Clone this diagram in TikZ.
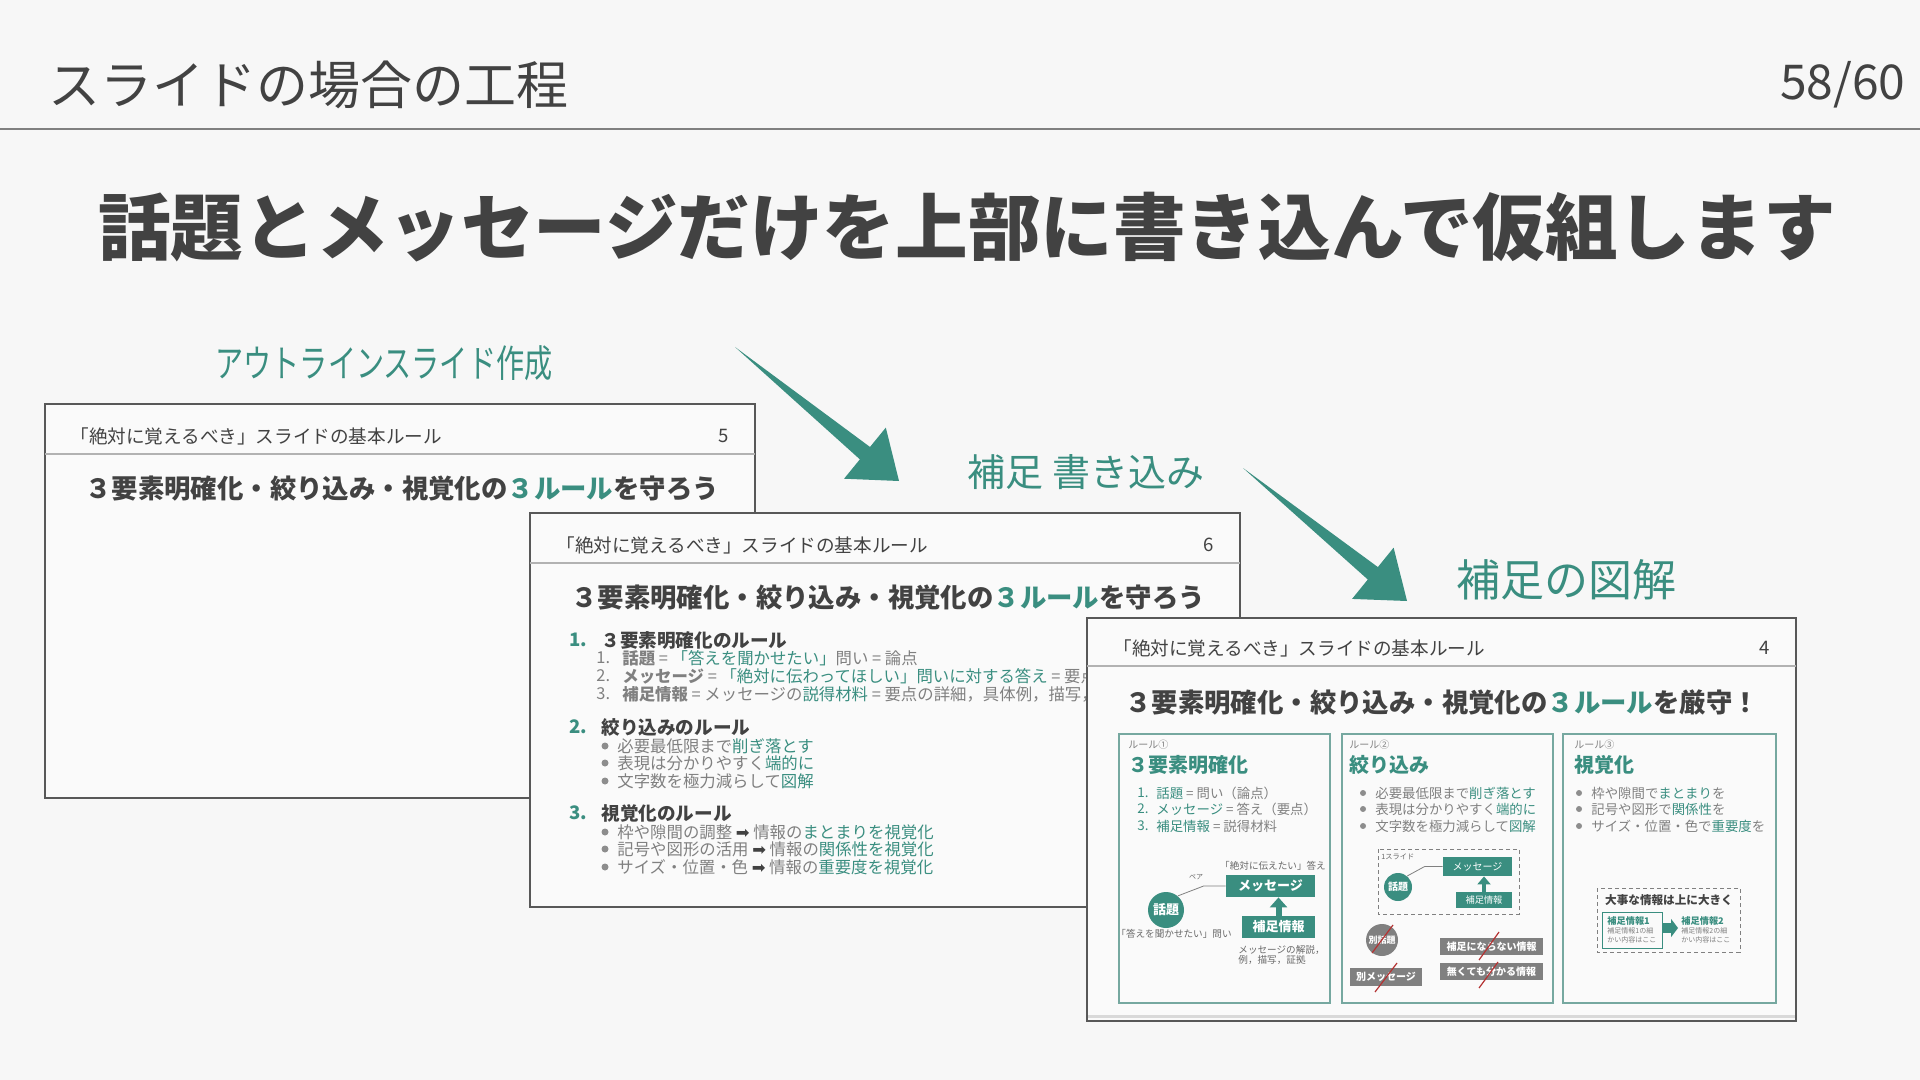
\documentclass[tikz,border=0pt]{standalone}
\usepackage{fontspec}
\setmainfont{Noto Sans CJK JP}
\newfontfamily\symfont{DejaVu Sans}
\usepackage{graphicx}
\usetikzlibrary{arrows.meta,calc,positioning}
\definecolor{slidebg}{RGB}{247,247,247}
\definecolor{slidepaper}{RGB}{250,250,250}
\definecolor{slideink}{RGB}{66,66,66}
\definecolor{slidegray}{RGB}{128,128,128}
\definecolor{slideframe}{RGB}{88,88,88}
\definecolor{slideteal}{RGB}{58,142,128}
\definecolor{panelline}{RGB}{118,168,160}
\definecolor{cutred}{RGB}{180,50,50}
\newcommand\fsz[1]{\fontsize{#1}{#1}\selectfont}
\newcommand\kw[1]{\textcolor{slideteal}{#1}}
\newcommand\flowarrow[2]{%
  \coordinate (#1-hb) at ($(#2)!22pt!(#1)$);
  \fill[slideteal] (#1) -- ($(#1-hb)!4pt!90:(#2)$) -- ($(#1-hb)!16.5pt!90:(#2)$) -- (#2)
    -- ($(#1-hb)!16.5pt!-90:(#2)$) -- ($(#1-hb)!4pt!-90:(#2)$) -- cycle;}
\tikzset{
  slidebox/.style={draw=slideframe,fill=slidepaper,line width=1pt},
  sepline/.style={draw=black!30,line width=0.6pt},
  hdr/.style={inner sep=0pt,text=slideink,font=\fsz{9.3pt}},
  ttl/.style={inner sep=0pt,text=slideink,font=\fsz{13.2pt}\bfseries},
  lvl/.style={inner sep=0pt,anchor=west,text=slideink,font=\fsz{9.3pt}\bfseries},
  lvlnum/.style={lvl,text=slideteal},
  body/.style={inner sep=0pt,anchor=west,text=slidegray,font=\fsz{8.2pt}},
  panel/.style={draw=panelline,fill=slidepaper,line width=0.6pt},
  rulelab/.style={inner sep=0pt,anchor=west,text=slidegray,font=\fsz{5pt}},
  panelhead/.style={inner sep=0pt,anchor=west,text=slideteal,font=\fsz{10pt}\bfseries},
  pbody/.style={inner sep=0pt,anchor=west,text=slidegray,font=\fsz{6.7pt}},
  topic/.style={circle,fill=slideteal,text=white,inner sep=0pt,font=\bfseries},
  msgbox/.style={fill=slideteal,text=white,inner sep=0pt},
  offbox/.style={fill=slidegray,text=white,inner sep=0pt},
  note/.style={inner sep=0pt,text=slideink!80,font=\fsz{4.8pt}},
  pairline/.style={draw=slidegray,line width=0.4pt},
  dashbox/.style={draw=slidegray,line width=0.5pt,dash pattern=on 2pt off 1.5pt},
  cutline/.style={draw=cutred,line width=0.6pt},
  hand/.style={inner sep=0pt,text=slideteal}
}

\begin{document}
\begin{tikzpicture}[x=0.5pt,y=-0.5pt]
  \fill[slidebg] (0,0) rectangle (1920,1080);
  \useasboundingbox (0,0) rectangle (1920,1080);

  % page header
  \node[inner sep=0pt,anchor=west,text=slideink,font=\fsz{26pt}] (pagetitle) at (48,85) {スライドの場合の工程};
  \node[inner sep=0pt,anchor=east,text=slideink,font=\fsz{24pt}] (pageno) at (1906,85) {58/60};
  \draw[black!50,line width=1pt] (0,129) -- (1920,129);
  \node[inner sep=0pt,text=slideink,font=\fsz{36.3pt}\bfseries] (lead) at (967,227) {話題とメッセージだけを上部に書き込んで仮組します};

  % step labels and arrows
  \node[hand,font=\fsz{19pt}] (lab1) at (384,363) {\scalebox{0.74}[1]{アウトラインスライド作成}};
  \node[hand,font=\fsz{19pt}] (lab2) at (1086,472) {補足 書き込み};
  \node[hand,font=\fsz{22pt}] (lab3) at (1566,580) {補足の図解};
  \coordinate (a1s) at (735,347);
  \coordinate (a1e) at (899,481);
  \coordinate (a2s) at (1243,468);
  \coordinate (a2e) at (1407,601);
  \flowarrow{a1s}{a1e}
  \flowarrow{a2s}{a2e}

  % slide 5 : outline only
  \filldraw[slidebox] (45,404) rectangle (755,798);
  \draw[sepline] (45,454) -- (755,454);
  \node[hdr,anchor=west] (s5head) at (70,436) {「絶対に覚えるべき」スライドの基本ルール};
  \node[hdr] (s5num) at (724,436) {5};
  \node[ttl] (s5title) at (402,489) {３要素明確化・絞り込み・視覚化の\kw{３ルール}を守ろう};

  % slide 6 : text added
  \filldraw[slidebox] (530,513) rectangle (1240,907);
  \draw[sepline] (530,563) -- (1240,563);
  \node[hdr,anchor=west] (s6head) at (556,545) {「絶対に覚えるべき」スライドの基本ルール};
  \node[hdr] (s6num) at (1209,545) {6};
  \node[ttl] (s6title) at (888,598) {３要素明確化・絞り込み・視覚化の\kw{３ルール}を守ろう};
  \node[lvlnum] (s6n1) at (569,640) {1.};
  \node[lvl] (s6h1) at (601,640) {３要素明確化のルール};
  \foreach \k/\y in {1/658,2/676,3/694}
    \node[body] (s6sn\k) at (596,\y) {\k.};
  \node[body] (s6i1) at (622,658) {\textbf{話題} = \kw{「答えを聞かせたい」}問い = 論点};
  \node[body] (s6i2) at (622,676) {\textbf{メッセージ} = \kw{「絶対に伝わってほしい」問いに対する答え} = 要点};
  \node[body] (s6i3) at (622,694) {\textbf{補足情報} = メッセージの\kw{説得材料} = 要点の詳細，具体例，描写，証拠};
  \node[lvlnum] (s6n2) at (569,727) {2.};
  \node[lvl] (s6h2) at (601,727) {絞り込みのルール};
  \node[lvlnum] (s6n3) at (569,813) {3.};
  \node[lvl] (s6h3) at (601,813) {視覚化のルール};
  \foreach \y in {746,763,781,832,849,867}
    \fill[slidegray!90] (605,\y) circle (3.5);
  \node[body] (s6b1) at (617,746) {必要最低限まで\kw{削ぎ落とす}};
  \node[body] (s6b2) at (617,763) {表現は分かりやすく\kw{端的に}};
  \node[body] (s6b3) at (617,781) {文字数を極力減らして\kw{図解}};
  \node[body] (s6b4) at (617,832) {枠や隙間の調整 {\color{slideink}\symfont ➡} 情報の\kw{まとまりを視覚化}};
  \node[body] (s6b5) at (617,849) {記号や図形の活用 {\color{slideink}\symfont ➡} 情報の\kw{関係性を視覚化}};
  \node[body] (s6b6) at (617,867) {サイズ・位置・色 {\color{slideink}\symfont ➡} 情報の\kw{重要度を視覚化}};

  % slide 4 : figures added
  \filldraw[slidebox] (1087,618) rectangle (1796,1021);
  \draw[sepline] (1087,666) -- (1796,666);
  \draw[black!15,line width=1.5pt] (1088,1016) -- (1795,1016);
  \node[hdr,anchor=west] (s4head) at (1113,648) {「絶対に覚えるべき」スライドの基本ルール};
  \node[hdr] (s4num) at (1765,648) {4};
  \node[ttl] (s4title) at (1442,702) {３要素明確化・絞り込み・視覚化の\kw{３ルール}を厳守！};
  \draw[panel] (1119,734) rectangle (1330,1003);
  \draw[panel] (1342,734) rectangle (1553,1003);
  \draw[panel] (1563,734) rectangle (1776,1003);

  % rule 1
  \node[rulelab] (r1lab) at (1128,745) {ルール①};
  \node[panelhead] (r1head) at (1128,765) {３要素明確化};
  \foreach \k/\y in {1/793,2/809,3/826}
    \node[pbody,text=slideteal] (r1n\k) at (1137,\y) {\k.};
  \node[pbody] (r1i1) at (1156,793) {\kw{話題} = 問い（論点）};
  \node[pbody] (r1i2) at (1156,809) {\kw{メッセージ} = 答え（要点）};
  \node[pbody] (r1i3) at (1156,826) {\kw{補足情報} = 説得材料};
  \node[topic,minimum size=18pt,font=\fsz{6.5pt}\bfseries] (t1) at (1166,910) {話題};
  \node[msgbox,minimum width=44.5pt,minimum height=11pt,font=\fsz{6.5pt}\bfseries] (m1) at (1270.5,886) {メッセージ};
  \node[msgbox,minimum width=36.5pt,minimum height=11pt,font=\fsz{6.5pt}\bfseries] (f1) at (1278.5,927) {補足情報};
  \draw[slideteal,line width=3pt,-{Triangle[width=8.5pt,length=5pt]}] (f1.north) -- (f1.north |- m1.south);
  \draw[pairline] (t1.50) -- ([xshift=-11pt]m1.west) -- (m1.west);
  \node[note,font=\fsz{3.5pt}] (pair1) at (1196,877) {ペア};
  \node[note] (ans1) at (1273,866) {「絶対に伝えたい」答え};
  \node[note] (ask1) at (1174,934) {「答えを聞かせたい」問い};
  \node[note,anchor=west] (exp1) at (1238,950) {メッセージの解説，};
  \node[note,anchor=west] (exp2) at (1238,960) {例，描写，証拠};

  % rule 2
  \node[rulelab] (r2lab) at (1349,745) {ルール②};
  \node[panelhead] (r2head) at (1349,765) {絞り込み};
  \foreach \y in {793,809,826}
    \fill[slidegray!90] (1363,\y) circle (3);
  \node[pbody] (r2b1) at (1375,793) {必要最低限まで\kw{削ぎ落とす}};
  \node[pbody] (r2b2) at (1375,809) {表現は分かりやすく\kw{端的に}};
  \node[pbody] (r2b3) at (1375,826) {文字数を極力減らして\kw{図解}};
  \draw[dashbox] (1378,849) rectangle (1519,914);
  \node[note,anchor=west,font=\fsz{3.6pt}] (one2) at (1381,857) {1スライド};
  \node[topic,minimum size=14pt,font=\fsz{5pt}\bfseries] (t2) at (1398,887) {話題};
  \node[msgbox,minimum width=34.5pt,minimum height=9.5pt,font=\fsz{5pt}] (m2) at (1477.5,866.5) {メッセージ};
  \node[msgbox,minimum width=28pt,minimum height=8pt,font=\fsz{4.6pt}] (f2) at (1484,900) {補足情報};
  \draw[slideteal,line width=2pt,-{Triangle[width=6.5pt,length=4pt]}] (f2.north) -- (f2.north |- m2.south);
  \draw[pairline] (t2.50) -- ([xshift=-9pt]m2.west) -- (m2.west);
  \node[topic,fill=slidegray,minimum size=16pt,font=\fsz{4.5pt}\bfseries] (bt) at (1382,940) {別話題};
  \node[offbox,minimum width=36pt,minimum height=9pt,font=\fsz{5pt}\bfseries] (bm) at (1386,977) {別メッセージ};
  \node[offbox,minimum width=51.5pt,minimum height=8.5pt,font=\fsz{5pt}\bfseries] (ni1) at (1491.5,946.5) {補足にならない情報};
  \node[offbox,minimum width=51.5pt,minimum height=8.5pt,font=\fsz{5pt}\bfseries] (ni2) at (1491.5,971.5) {無くても分かる情報};
  \draw[cutline] ([shift={(-10,13)}]bt.center) -- ([shift={(11,-15)}]bt.center);
  \draw[cutline] ([shift={(-11,15)}]bm.center) -- ([shift={(11,-14)}]bm.center);
  \draw[cutline] ([shift={(-12.5,13.5)}]ni1.center) -- ([shift={(7.5,-14.5)}]ni1.center);
  \draw[cutline] ([shift={(-12.5,16.5)}]ni2.center) -- ([shift={(6.5,-9.5)}]ni2.center);

  % rule 3
  \node[rulelab] (r3lab) at (1574,745) {ルール③};
  \node[panelhead] (r3head) at (1574,765) {視覚化};
  \foreach \y in {793,809,826}
    \fill[slidegray!90] (1579,\y) circle (3);
  \node[pbody] (r3b1) at (1591,793) {枠や隙間で\kw{まとまり}を};
  \node[pbody] (r3b2) at (1591,809) {記号や図形で\kw{関係性}を};
  \node[pbody] (r3b3) at (1591,826) {サイズ・位置・色で\kw{重要度}を};
  \draw[dashbox] (1597,888) rectangle (1740,952);
  \node[note,text=slideink,font=\fsz{5.8pt}\bfseries] (big3) at (1669,900) {大事な情報は上に大きく};
  \draw[draw=slideteal,line width=0.5pt] (1602,912) rectangle (1662,948);
  \node[note,anchor=west,text=slideteal,font=\fsz{4.6pt}\bfseries] (sup31) at (1607,921) {補足情報1};
  \node[note,anchor=west,text=slidegray,font=\fsz{3.5pt}] (sup31a) at (1607,931) {補足情報1の細};
  \node[note,anchor=west,text=slidegray,font=\fsz{3.5pt}] (sup31b) at (1607,940) {かい内容はここ};
  \node[note,anchor=west,text=slideteal,font=\fsz{4.6pt}\bfseries] (sup32) at (1681,921) {補足情報2};
  \node[note,anchor=west,text=slidegray,font=\fsz{3.5pt}] (sup32a) at (1681,931) {補足情報2の細};
  \node[note,anchor=west,text=slidegray,font=\fsz{3.5pt}] (sup32b) at (1681,940) {かい内容はここ};
  \draw[slideteal,line width=5pt,-{Triangle[width=9pt,length=3.5pt]}] (1663,928) -- (1678,928);
\end{tikzpicture}
\end{document}
